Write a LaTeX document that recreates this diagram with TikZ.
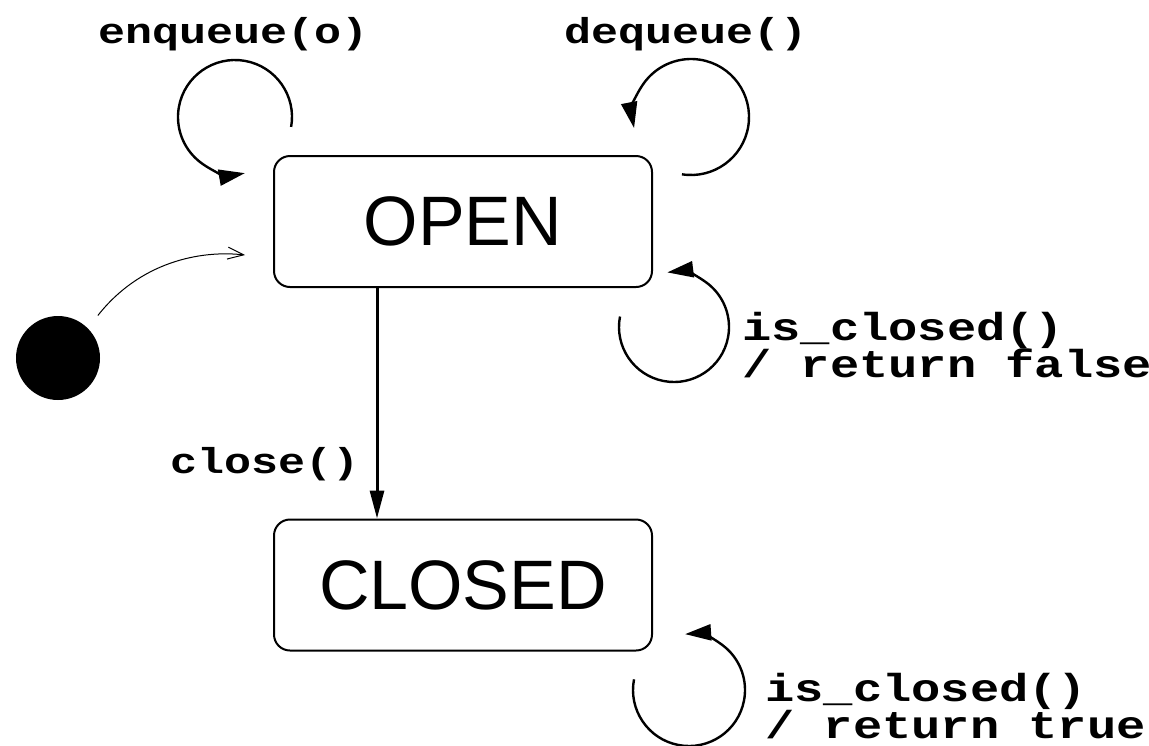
\documentclass[tikz,border=0pt]{standalone}
\usepackage{fontspec}
\setmainfont{Liberation Sans}
\newfontfamily\codefont[FakeStretch=1.25]{Liberation Mono}
\usetikzlibrary{positioning,calc,arrows.meta}

\tikzset{
  statebox/.style={draw, line width=1pt, rounded corners=8pt,
    minimum width=189pt, minimum height=65.5pt, font=\fontsize{35}{40}\selectfont},
  startdot/.style={circle, fill=black, minimum size=42pt, inner sep=0pt},
  evlabel/.style={font=\codefont\bfseries\fontsize{18}{20}\selectfont, inner sep=0pt},
  retlabel/.style={font=\codefont\bfseries\fontsize{19.5}{18.5}\selectfont, align=left, inner sep=0pt},
  loopy/.style={line width=1.2pt, -{Triangle[length=13pt,width=8pt]}},
  trans/.style={line width=1.5pt, -{Triangle[length=14pt,width=7pt]}},
  initarrow/.style={line width=0.5pt, -{Straight Barb[length=8pt,width=6pt]}}
}

\begin{document}
\begin{tikzpicture}[x=0.5pt, y=-0.5pt]

  % frame, 1 unit = one pixel of the reference
  \useasboundingbox (0,0) rectangle (1149,745);

  % states
  \node[statebox] (open) at (463,221.5) {OPEN};
  \node[statebox] (closed) at (463,585) {CLOSED};
  \node[startdot] (init) at (58,358) {};

  % helper points
  \coordinate (entry) at (245,255);
  \coordinate (closex) at (377,0);
  \coordinate (enqc) at (235,117);
  \coordinate (deqc) at (691,117);
  \coordinate (isoc) at (674,327);
  \coordinate (iscc) at (689,690);

  % transitions
  \draw[initarrow, shorten <=8pt] (init.45) .. controls (140,262) and (200,250) .. (entry);
  \draw[trans] (open.south -| closex) -- (closed.north -| closex);
  \node[evlabel, anchor=base east] (closelbl) at (360,473) {close()};

  % self loops
  \draw[loopy] ([shift={(10:57)}]enqc) arc[start angle=10, end angle=-280, radius=57];
  \draw[loopy] ([shift={(99:58)}]deqc) arc[start angle=99, end angle=-191, radius=58];
  \draw[loopy] ([shift={(191:55)}]isoc) arc[start angle=191, end angle=-97, radius=55];
  \draw[loopy] ([shift={(191:56)}]iscc) arc[start angle=191, end angle=-94, radius=56];

  % labels
  \node[evlabel, anchor=base] (enqlbl) at (234,43) {enqueue(o)};
  \node[evlabel, anchor=base] (deqlbl) at (686,43) {dequeue()};
  \node[retlabel, anchor=west] (isolbl) at (742,345) {is\_closed()\\/ return false};
  \node[retlabel, anchor=west] (isclbl) at (765,706) {is\_closed()\\/ return true};

\end{tikzpicture}
\end{document}
